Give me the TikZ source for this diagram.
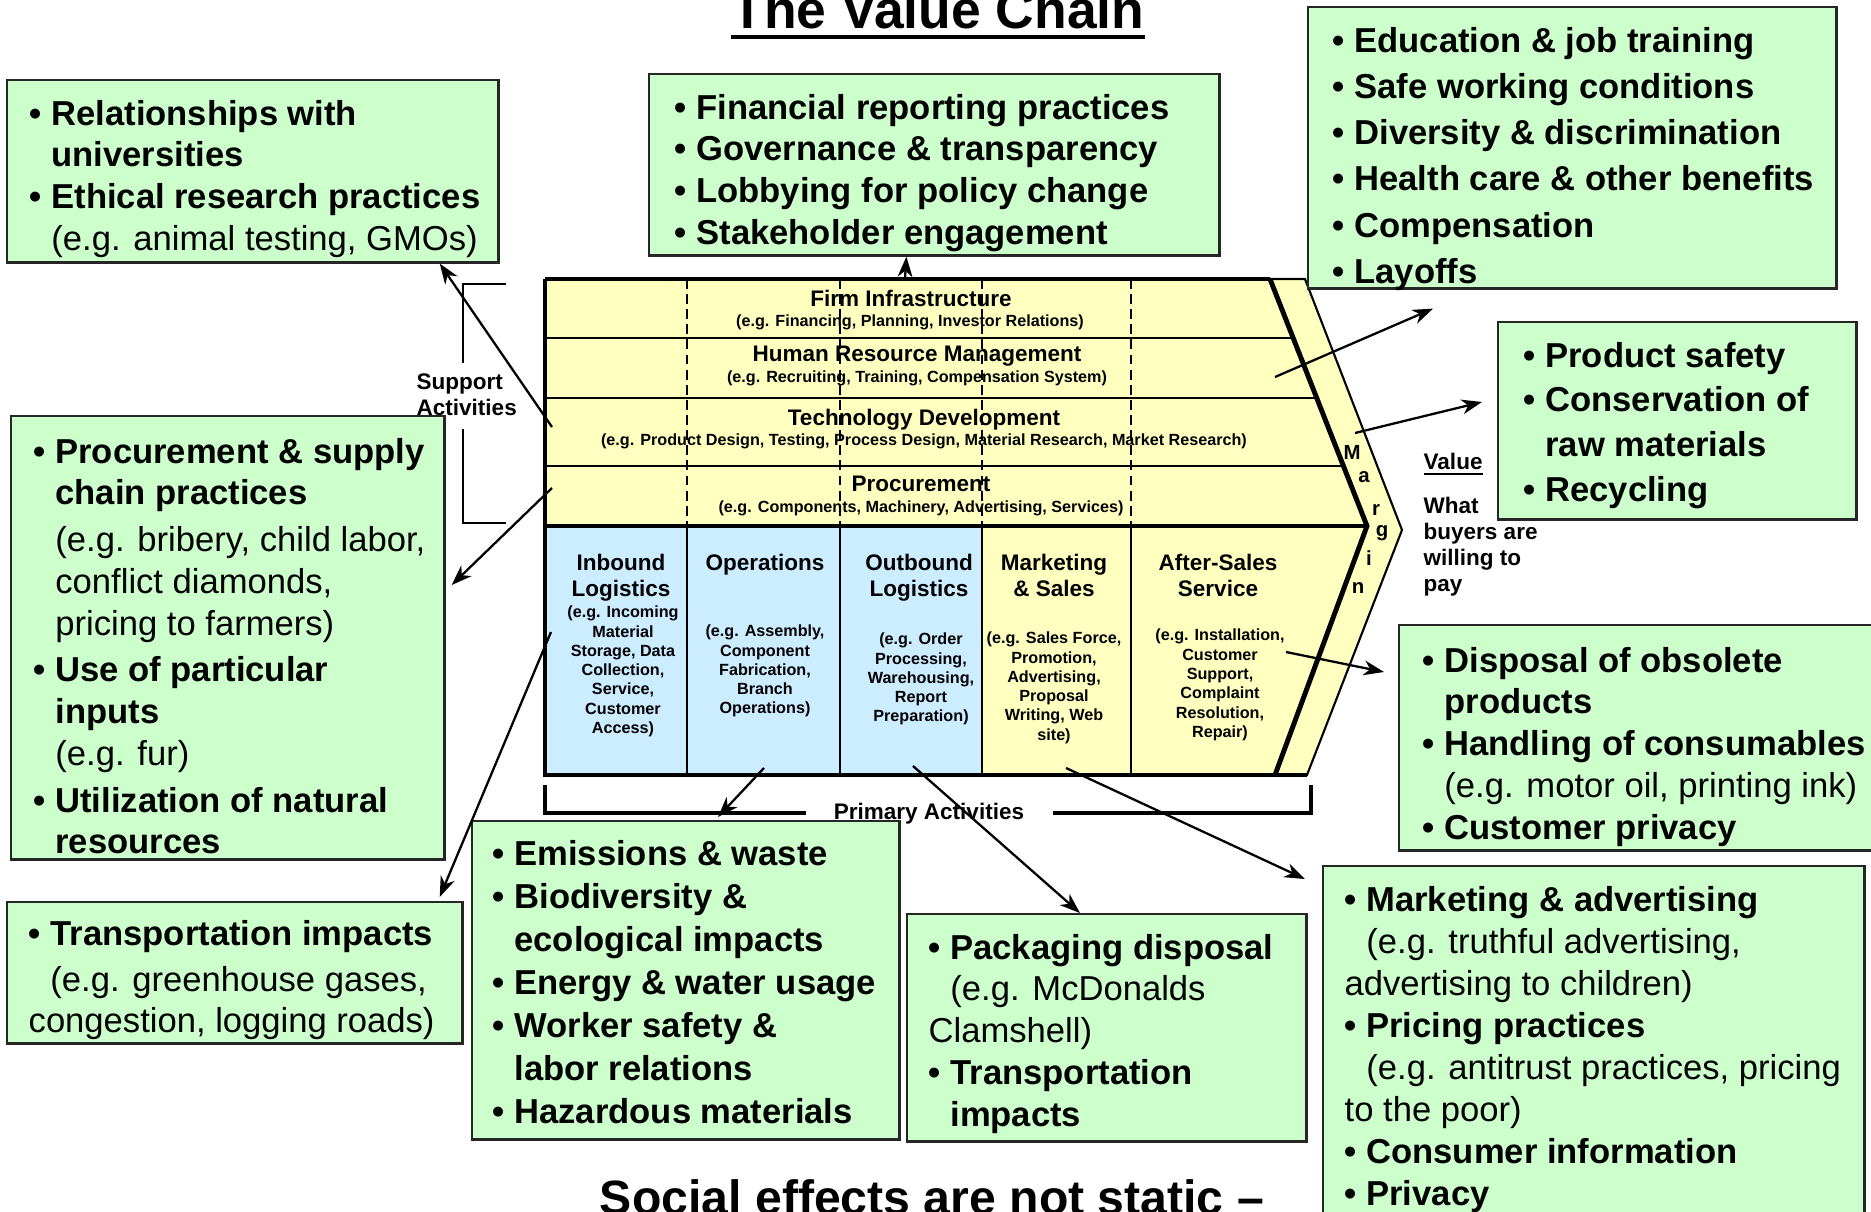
\documentclass[tikz,border=0pt]{standalone}
\usepackage{fontspec}
\setmainfont{Liberation Sans}
\usepackage{xcolor}
\usetikzlibrary{arrows.meta, positioning}

\definecolor{greenbox}{RGB}{204,255,204}
\definecolor{chainyellow}{RGB}{255,255,192}
\definecolor{chainblue}{RGB}{204,236,255}

\newcommand{\greenfont}{\fontsize{9.84pt}{11.87pt}\selectfont}
\newcommand{\actfont}{\fontsize{6.4pt}{7.45pt}\selectfont\bfseries}
\newcommand{\egfont}{\fontsize{4.6pt}{5.49pt}\selectfont\bfseries}
\newcommand{\firstln}{\rule{0pt}{9.2pt}}
\newcommand{\bl}{\textbullet\ }
\newcommand{\ind}{\hphantom{\textbullet\ }}

\begin{document}
\begin{tikzpicture}[x=0.01cm, y=-0.01cm, >={Stealth[length=5.8pt, width=4.2pt, inset=1.8pt]}]
\tikzstyle{gbox} = [draw=black!85, fill=greenbox, line width=0.7pt,
    anchor=north west, inner sep=0pt]
\tikzstyle{gtext} = [anchor=north west, inner sep=0pt, align=left,
    font=\greenfont\bfseries]
\tikzstyle{act} = [inner sep=0pt, font=\actfont]
\tikzstyle{eg} = [inner sep=0pt, font=\egfont]
\tikzstyle{conn} = [->, line width=0.65pt]
\useasboundingbox (0,0) rectangle (1871,1212);
\clip (0,0) rectangle (1871,1212);

% the chain itself
\fill[chainyellow] (545,279) -- (1270,279) -- (1367,526) -- (1275,775)
    -- (982,775) -- (982,526) -- (545,526) -- cycle;
\fill[chainblue] (545,526) rectangle (982,775);
\fill[chainyellow] (1270,279) -- (1305,279) -- (1402,530) -- (1307,775)
    -- (1275,775) -- (1367,526) -- cycle;
\foreach \yy/\xx in {338/1293, 398/1317, 466/1344}
    \draw[line width=0.45pt] (545,\yy) -- (\xx,\yy);
\foreach \xx in {687,840,982,1131} {
    \draw[line width=0.5pt, dash pattern=on 2.8pt off 1.5pt] (\xx,279) -- (\xx,526);
    \draw[line width=0.45pt] (\xx,526) -- (\xx,775);
}
\draw[line width=0.6pt] (1270,279) -- (1305,279) -- (1402,530) -- (1307,775) -- (1275,775);
\draw[line width=1pt] (545,279) -- (1270,279);
\draw[line width=1pt] (545,279) -- (545,775) -- (1307,775);
\draw[line width=1.4pt] (545,526) -- (1367,526);
\draw[line width=1.4pt] (1270,279) -- (1367,526) -- (1275,775);

% support activities
\node[act, anchor=base] (firm) at (911,307) {Firm Infrastructure};
\node[eg, anchor=base] (firmeg) at (910,327) {(e.g. Financing, Planning, Investor Relations)};
\node[act, anchor=base] (hrm) at (917,361) {Human Resource Management};
\node[eg, anchor=base] (hrmeg) at (917,382) {(e.g. Recruiting, Training, Compensation System)};
\node[act, anchor=base] (techdev) at (924,425) {Technology Development};
\node[eg, anchor=base] (techdeveg) at (924,445) {(e.g. Product Design, Testing, Process Design, Material Research, Market Research)};
\node[act, anchor=base] (procure) at (921,491) {Procurement};
\node[eg, anchor=base] (procureeg) at (921,512) {(e.g. Components, Machinery, Advertising, Services)};

% primary activities
\node[act, anchor=north, align=center] (inbound) at (621,550) {\rule{0pt}{5.5pt}Inbound\\Logistics};
\node[eg, anchor=north, align=center] (inboundeg) at (623,603) {\rule{0pt}{4pt}(e.g. Incoming\\Material\\Storage, Data\\Collection,\\Service,\\Customer\\Access)};
\node[act, anchor=north, align=center] (operations) at (765,550) {\rule{0pt}{5.5pt}Operations};
\node[eg, anchor=north, align=center] (operationseg) at (765,622) {\rule{0pt}{4pt}(e.g. Assembly,\\Component\\Fabrication,\\Branch\\Operations)};
\node[act, anchor=north, align=center] (outbound) at (919,550) {\rule{0pt}{5.5pt}Outbound\\Logistics};
\node[eg, anchor=north, align=center] (outboundeg) at (921,630) {\rule{0pt}{4pt}(e.g. Order\\Processing,\\Warehousing,\\Report\\Preparation)};
\node[act, anchor=north, align=center] (marketing) at (1054,550) {\rule{0pt}{5.5pt}Marketing\\\& Sales};
\node[eg, anchor=north, align=center] (marketingeg) at (1054,629) {\rule{0pt}{4pt}(e.g. Sales Force,\\Promotion,\\Advertising,\\Proposal\\Writing, Web\\site)};
\node[act, anchor=north, align=center] (service) at (1218,550) {\rule{0pt}{5.5pt}After-Sales\\Service};
\node[eg, anchor=north, align=center] (serviceeg) at (1220,626) {\rule{0pt}{4pt}(e.g. Installation,\\Customer\\Support,\\Complaint\\Resolution,\\Repair)};

% margin and brackets
\foreach \ch/\xx/\yy [count=\i] in {M/1352/452, a/1364/477, r/1376/510, g/1382/533, i/1369/558, n/1358/588}
    \node[inner sep=0pt, font=\fontsize{5.8pt}{7pt}\selectfont\bfseries] (margin\i) at (\xx,\yy) {\ch};
\node[act, anchor=base west] (value) at (1423,469) {\underline{Value}};
\node[act, anchor=north west, align=left] (buyers) at (1423,493) {\rule{0pt}{5.5pt}What\\buyers are\\willing to\\pay};
\draw[line width=0.6pt] (506,284) -| (463,363);
\draw[line width=0.6pt] (463,429) |- (506,523);
\node[act, anchor=north west, align=left] (support) at (416,369) {\rule{0pt}{5.5pt}Support\\Activities};
\draw[line width=0.95pt] (545,785) |- (806,813);
\draw[line width=0.95pt] (1053,813) -| (1311,785);
\node[act, anchor=base] (primary) at (929,819) {Primary Activities};

% titles
\node[inner sep=0pt, anchor=base, font=\fontsize{15.2pt}{18pt}\selectfont\bfseries] (title) at (938,28) {The Value Chain};
\draw[line width=1.15pt] ([yshift=-0.09cm]title.base west) -- ([yshift=-0.09cm]title.base east);
\node[inner sep=0pt, anchor=base, font=\fontsize{13.7pt}{16pt}\selectfont\bfseries] (static) at (932,1214) {Social effects are not static \textendash};

% social issue boxes
\node[gbox, minimum width=4.91cm, minimum height=1.82cm] (univ) at (6,79) {};
\node[gtext] (univtxt) at (29,92) {\firstln\bl Relationships with\\\ind universities\\\bl Ethical research practices\\\ind{\mdseries (e.g. animal testing, GMOs)}};

\node[gbox, minimum width=5.7cm, minimum height=1.81cm] (gov) at (648,73) {};
\node[gtext] (govtxt) at (674,86) {\firstln\bl Financial reporting practices\\\bl Governance \& transparency\\\bl Lobbying for policy change\\\bl Stakeholder engagement};

\node[gbox, minimum width=5.28cm, minimum height=2.81cm] (hr) at (1307,6) {};
\node[gtext, font=\fontsize{9.84pt}{13.15pt}\selectfont\bfseries] (hrtxt) at (1332,19) {\firstln\bl Education \& job training\\\bl Safe working conditions\\\bl Diversity \& discrimination\\\bl Health care \& other benefits\\\bl Compensation\\\bl Layoffs};

\node[gbox, minimum width=3.58cm, minimum height=1.97cm] (tech) at (1497,321) {};
\node[gtext, font=\fontsize{9.84pt}{12.7pt}\selectfont\bfseries] (techtxt) at (1523,334) {\firstln\bl Product safety\\\bl Conservation of\\\ind raw materials\\\bl Recycling};

\node[gbox, minimum width=4.33cm, minimum height=4.43cm] (proc) at (10,415) {};
\node[gtext, font=\fontsize{9.84pt}{11.85pt}\selectfont\bfseries] (proctxt) at (33,430) {\firstln\bl Procurement \& supply\\\ind chain practices\\[1.5pt]\ind{\mdseries (e.g. bribery, child labor,}\\\ind{\mdseries conflict diamonds,}\\\ind{\mdseries pricing to farmers)}\\[1.5pt]\bl Use of particular\\\ind inputs\\\ind{\mdseries (e.g. fur)}\\[1.5pt]\bl Utilization of natural\\\ind resources};

\node[gbox, minimum width=4.92cm, minimum height=2.25cm] (after) at (1398,624) {};
\node[gtext] (aftertxt) at (1422,639) {\firstln\bl Disposal of obsolete\\\ind products\\\bl Handling of consumables\\\ind{\mdseries (e.g. motor oil, printing ink)}\\\bl Customer privacy};

\node[gbox, minimum width=4.55cm, minimum height=1.41cm] (trans) at (6,901) {};
\node[gtext] (transtxt) at (28,912) {\firstln\bl Transportation impacts\\[1.2pt]\ind{\mdseries (e.g. greenhouse gases,}\\{\mdseries congestion, logging roads)}};

\node[gbox, minimum width=4.27cm, minimum height=3.18cm] (ops) at (471,820) {};
\node[gtext, font=\fontsize{9.84pt}{12.23pt}\selectfont\bfseries] (opstxt) at (492,832) {\firstln\bl Emissions \& waste\\\bl Biodiversity \&\\\ind ecological impacts\\\bl Energy \& water usage\\\bl Worker safety \&\\\ind labor relations\\\bl Hazardous materials};

\node[gbox, minimum width=3.99cm, minimum height=2.27cm] (outb) at (906,913) {};
\node[gtext] (outbtxt) at (928,926) {\firstln\bl Packaging disposal\\\ind{\mdseries (e.g. McDonalds}\\{\mdseries Clamshell)}\\\bl Transportation\\\ind impacts};

\node[gbox, minimum width=5.41cm, minimum height=3.8cm] (mkt) at (1322,865) {};
\node[gtext, font=\fontsize{9.84pt}{11.95pt}\selectfont\bfseries] (mkttxt) at (1344,878) {\firstln\bl Marketing \& advertising\\\ind{\mdseries (e.g. truthful advertising,}\\{\mdseries advertising to children)}\\\bl Pricing practices\\\ind{\mdseries (e.g. antitrust practices, pricing}\\{\mdseries to the poor)}\\\bl Consumer information\\\bl Privacy};

% where each activity points to
\coordinate (techL) at (552,427);
\coordinate (procL) at (552,488);
\coordinate (inbL) at (551,632);
\coordinate (firmT) at (905,279);
\coordinate (hrR) at (1275,377);
\coordinate (techR) at (1355,433);
\coordinate (serviceR) at (1286,652);
\coordinate (opsB) at (764,768);
\coordinate (outbB) at (913,766);
\coordinate (mktB) at (1066,768);
\draw[conn] (techL) -- ([shift={(-60,0)}]univ.south east);
\draw[conn] (procL) -- ([shift={(6,170)}]proc.north east);
\draw[conn] (inbL) -- ([shift={(-24,-4)}]trans.north east);
\draw[conn] (firmT) -- ([shift={(-28,0)}]gov.south);
\draw[conn] (hrR) -- ([shift={(126,19)}]hr.south west);
\draw[conn] (techR) -- ([shift={(-15,81)}]tech.north west);
\draw[conn] (serviceR) -- ([shift={(-14,48)}]after.north west);
\draw[conn] (opsB) -- ([shift={(247,-3)}]ops.north west);
\draw[conn] (outbB) -- ([shift={(174,0)}]outb.north west);
\draw[conn] (mktB) -- ([shift={(-17,14)}]mkt.north west);
\end{tikzpicture}
\end{document}
